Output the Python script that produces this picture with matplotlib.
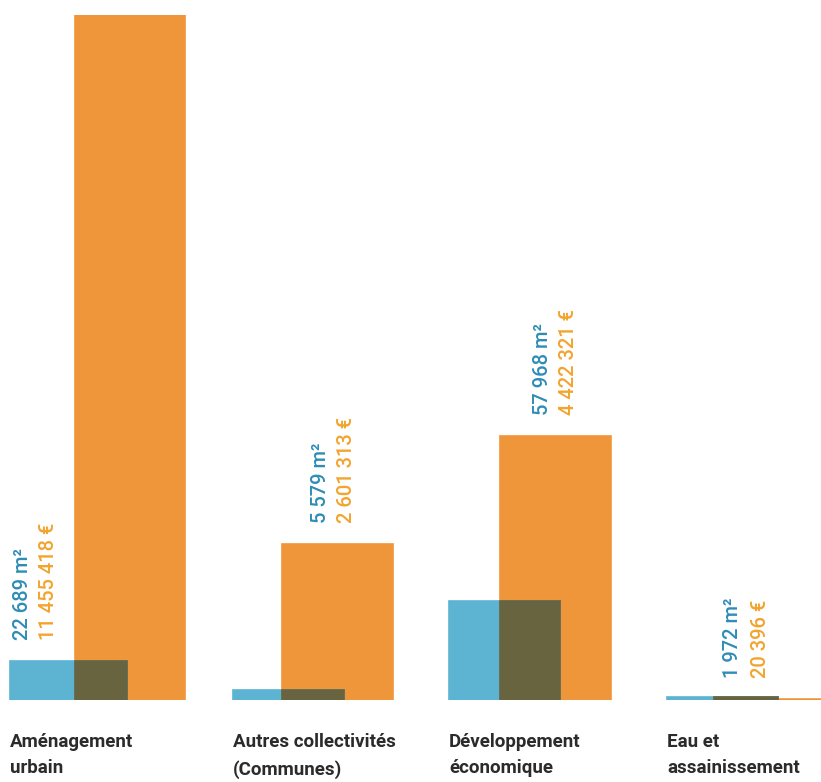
import matplotlib.pyplot as plt

# données
categories = ["Aménagement\nurbain", "Autres collectivités\n(Communes)",
              "Développement\néconomique", "Eau et\nassainissement"]
surface_m2 = [22689, 5579, 57968, 1972]
montant_eur = [11455418, 2601313, 4422321, 20396]
surface_txt = ["22 689 m²", "5 579 m²", "57 968 m²", "1 972 m²"]
montant_txt = ["11 455 418 €", "2 601 313 €", "4 422 321 €", "20 396 €"]

# mise en page (pixels)
blue_left = [10, 233, 449, 667]
blue_w = [117, 111, 111, 111]
orange_left = [75, 282, 500, 714]
orange_w = [110, 111, 111, 110]
txt_blue_x = [23, 320, 543, 733]
txt_orange_x = [49, 347, 568, 760]
anchor_on_blue = [True, False, False, False]

c_orange = "#F0963A"
c_blue = "#5DB3D2"
c_dark = "#67643F"
c_txt_blue = "#2E8DB5"
c_txt_orange = "#F2A42E"

plt.rcParams['font.family'] = ['Roboto', 'DejaVu Sans']

fig = plt.figure(figsize=(8.21, 7.82), dpi=100)
ax_o = fig.add_axes([0, 82 / 782, 1, 685 / 782])
ax_b = ax_o.twinx()
for ax in (ax_o, ax_b):
    ax.set_xlim(0, 821)
    ax.axis("off")
ax_o.set_ylim(0, max(montant_eur))
ax_b.set_ylim(0, 57968 * 685 / 99)

# barres orange (€)
ax_o.bar(orange_left, montant_eur, width=orange_w, align="edge", color=c_orange,
         edgecolor=c_orange, linewidth=1.2)
# barres bleues (m²)
ax_b.bar(blue_left, surface_m2, width=blue_w, align="edge", color=c_blue,
         edgecolor=c_blue, linewidth=1.2)
# zone de recouvrement
for i in range(len(categories)):
    x0 = orange_left[i]
    x1 = blue_left[i] + blue_w[i]
    ax_b.bar(x0, surface_m2[i], width=x1 - x0, align="edge", color=c_dark,
             edgecolor=c_dark, linewidth=1.2)

# étiquettes de valeurs
for i in range(len(categories)):
    if anchor_on_blue[i]:
        ax, yv = ax_b, surface_m2[i]
    else:
        ax, yv = ax_o, montant_eur[i]
    ax.annotate(surface_txt[i], xy=(txt_blue_x[i], yv), xytext=(0, 21),
                textcoords="offset pixels", rotation=90, ha="center", va="bottom",
                color=c_txt_blue, fontsize=14.5, fontweight="medium")
    ax.annotate(montant_txt[i], xy=(txt_orange_x[i], yv), xytext=(0, 21),
                textcoords="offset pixels", rotation=90, ha="center", va="bottom",
                color=c_txt_orange, fontsize=14.5, fontweight="medium")

# noms des catégories
for i, cat in enumerate(categories):
    ax_o.annotate(cat, xy=(blue_left[i], 0), xytext=(0, -33),
                  textcoords="offset pixels", ha="left", va="top",
                  fontsize=13.5, fontweight="bold", color="#2B2B2B",
                  linespacing=1.6, annotation_clip=False)

plt.savefig("out.png", dpi=100)
